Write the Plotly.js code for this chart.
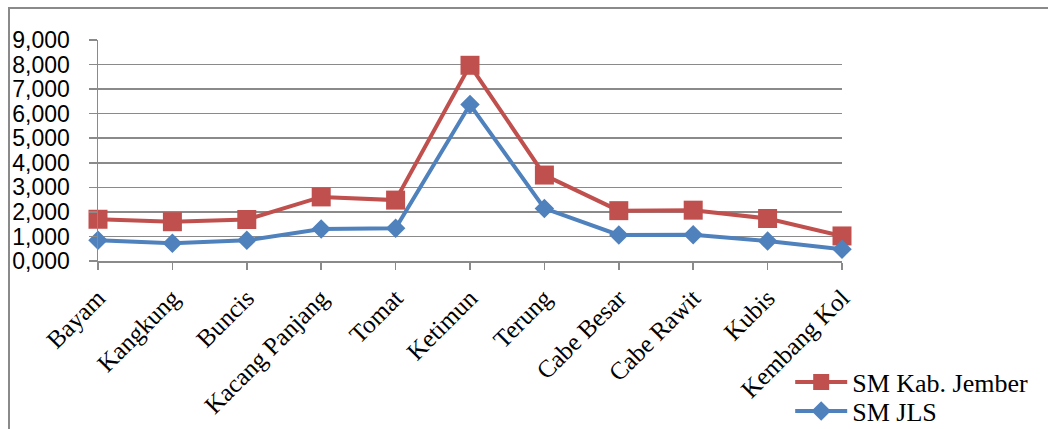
<!DOCTYPE html>
<html>
<head>
<meta charset="utf-8">
<script src="https://cdn.plot.ly/plotly-3.0.1.min.js"></script>
<style>
html,body{margin:0;padding:0;background:#fff;}
#wrap{position:relative;width:1048px;height:429px;}
#frame{position:absolute;left:8px;top:7px;width:1048px;height:430px;border-left:2px solid #8a8a8a;border-top:2px solid #8a8a8a;pointer-events:none;}
#chart{position:absolute;left:0;top:0;width:1048px;height:429px;}
</style>
</head>
<body>
<div id="wrap">
<div id="chart"></div>
<div id="frame"></div>
</div>
<script>
const categories = ["Bayam","Kangkung","Buncis","Kacang Panjang","Tomat","Ketimun","Terung","Cabe Besar","Cabe Rawit","Kubis","Kembang Kol"];
const smKabJember = [1.70, 1.60, 1.69, 2.61, 2.48, 7.97, 3.50, 2.05, 2.07, 1.73, 1.02];
const smJLS = [0.84, 0.72, 0.84, 1.30, 1.33, 6.37, 2.14, 1.06, 1.07, 0.81, 0.48];
const yTickVals = [0,1,2,3,4,5,6,7,8,9];
const yTickText = ["0,000","1,000","2,000","3,000","4,000","5,000","6,000","7,000","8,000","9,000"];

const legendFont = {family: "Liberation Serif, Times New Roman, serif", size: 26, color: "#000"};

const traces = [
  {
    x: categories, y: smKabJember, name: "SM Kab. Jember", legend: "legend",
    type: "scatter", mode: "lines+markers", cliponaxis: false,
    line: {color: "#C0504D", width: 4},
    marker: {symbol: "square", size: 19, color: "#C0504D"}
  },
  {
    x: categories, y: smJLS, name: "SM JLS", legend: "legend2",
    type: "scatter", mode: "lines+markers", cliponaxis: false,
    line: {color: "#4F81BD", width: 4},
    marker: {symbol: "diamond", size: 15, color: "#4F81BD"}
  }
];

const layout = {
  width: 1048, height: 429,
  margin: {l: 98, r: 206, t: 40, b: 168, pad: 0, autoexpand: false},
  paper_bgcolor: "#fff", plot_bgcolor: "#fff",
  showlegend: true,
  legend: {
    xref: "container", yref: "container",
    x: 0.754, xanchor: "left", y: 0.1096, yanchor: "middle",
    font: legendFont, bgcolor: "rgba(0,0,0,0)", itemwidth: 52
  },
  legend2: {
    xref: "container", yref: "container",
    x: 0.754, xanchor: "left", y: 0.042, yanchor: "middle",
    font: legendFont, bgcolor: "rgba(0,0,0,0)", itemwidth: 52
  },
  xaxis: {
    type: "category", range: [0, 10], automargin: false,
    showgrid: false, zeroline: false,
    showline: true, linecolor: "#8a8a8a", linewidth: 1.5,
    ticks: "outside", ticklen: 7, tickcolor: "#8a8a8a", tickwidth: 1.5,
    tickangle: -45, ticklabelstandoff: 4,
    tickfont: {family: "Liberation Serif, Times New Roman, serif", size: 25, color: "#000"}
  },
  yaxis: {
    range: [0, 9], tickvals: yTickVals, ticktext: yTickText, automargin: false,
    showgrid: true, gridcolor: "#8a8a8a", gridwidth: 1.5,
    zeroline: false,
    showline: true, linecolor: "#8a8a8a", linewidth: 1.5,
    ticks: "outside", ticklen: 8, tickcolor: "#8a8a8a", tickwidth: 1.5,
    ticklabelstandoff: 14,
    tickfont: {family: "Liberation Sans, Arial, sans-serif", size: 23, color: "#000"}
  }
};

Plotly.newPlot("chart", traces, layout, {displayModeBar: false, staticPlot: true});
</script>
</body>
</html>
